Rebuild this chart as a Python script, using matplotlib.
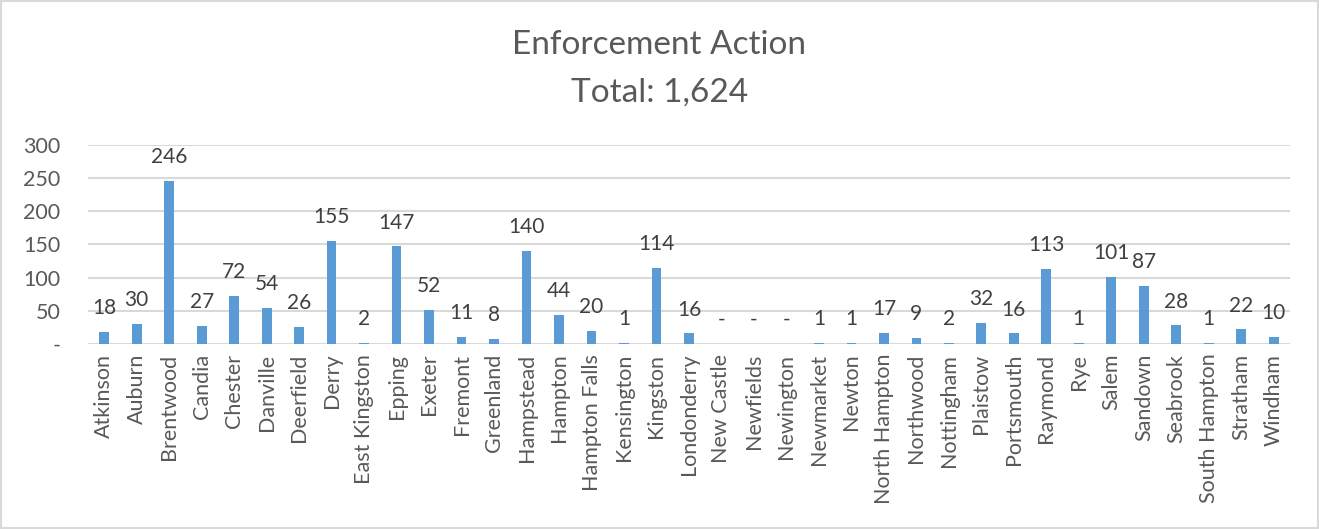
import matplotlib.pyplot as plt
from matplotlib.patches import Rectangle

towns = ['Atkinson', 'Auburn', 'Brentwood', 'Candia', 'Chester', 'Danville',
         'Deerfield', 'Derry', 'East Kingston', 'Epping', 'Exeter', 'Fremont',
         'Greenland', 'Hampstead', 'Hampton', 'Hampton Falls', 'Kensington',
         'Kingston', 'Londonderry', 'New Castle', 'Newfields', 'Newington',
         'Newmarket', 'Newton', 'North Hampton', 'Northwood', 'Nottingham',
         'Plaistow', 'Portsmouth', 'Raymond', 'Rye', 'Salem', 'Sandown',
         'Seabrook', 'South Hampton', 'Stratham', 'Windham']
actions = [18, 30, 246, 27, 72, 54, 26, 155, 2, 147, 52, 11, 8, 140, 44, 20, 1,
           114, 16, 0, 0, 0, 1, 1, 17, 9, 2, 32, 16, 113, 1, 101, 87, 28, 1, 22, 10]
yticks = [0, 50, 100, 150, 200, 250, 300]
ytick_labels = ['-', '50', '100', '150', '200', '250', '300']

plt.rcParams['font.family'] = ['Lato', 'DejaVu Sans']

fig = plt.figure(figsize=(13.19, 5.29), dpi=100)
ax = fig.add_axes([0.0667, 0.3497, 0.9113, 0.3763])

x = range(len(towns))
ax.bar(x, actions, width=0.3, color='#5B9BD5', zorder=3)

# data labels, zero shown as a dash like Excel's accounting format
for i, v in enumerate(actions):
    ax.annotate(str(v) if v else '-', (i, v), xytext=(0, 10),
                textcoords='offset points', ha='center', va='bottom',
                fontsize=15, color='#404040')

ax.set_xlim(-0.5, len(towns) - 0.5)
ax.set_ylim(0, 300)
ax.set_yticks(yticks)
ax.set_yticklabels(ytick_labels, fontsize=15.5, color='#595959')
ax.set_xticks(list(x))
ax.set_xticklabels(towns, rotation=90, fontsize=15.5, color='#595959')
ax.tick_params(length=0, pad=7)
ax.tick_params(axis='y', pad=20)
ax.grid(axis='y', color='#D9D9D9', linewidth=1.5, zorder=0)
for s in ax.spines.values():
    s.set_visible(False)

fig.text(0.5, 0.915, 'Enforcement Action', ha='center', va='center',
         fontsize=24, color='#595959')
fig.text(0.5, 0.826, 'Total: 1,624', ha='center', va='center',
         fontsize=24, color='#595959')

fig.patches.append(Rectangle((0.001, 0.001), 0.998, 0.998, transform=fig.transFigure,
                             fill=False, edgecolor='#D9D9D9', linewidth=1.5))

fig.savefig('out.png', dpi=100)
